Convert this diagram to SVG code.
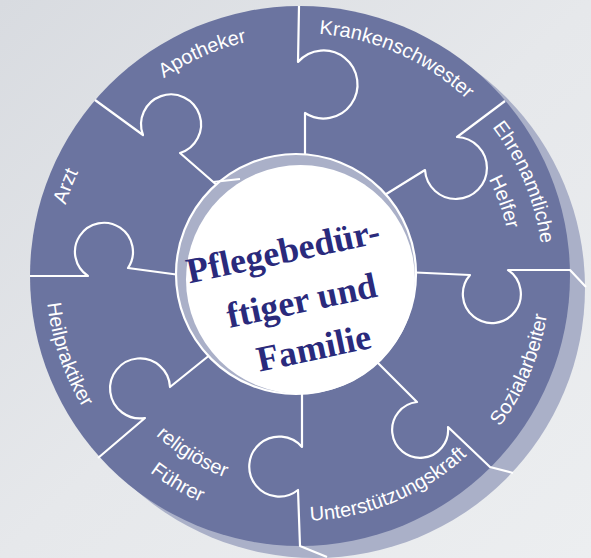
<svg xmlns="http://www.w3.org/2000/svg" width="591" height="558" viewBox="0 0 591 558">
<defs>
<style>
.lbl{font-family:"Liberation Sans",Arial,sans-serif;font-size:20px;fill:#ffffff}
.seam{fill:none;stroke:#ffffff;stroke-width:2.2;stroke-linejoin:round}
.ctr{font-family:"Liberation Serif","Times New Roman",serif;font-weight:bold;font-size:36px;fill:#2a2a7c;text-anchor:middle}
</style>
<linearGradient id="bg" x1="0" y1="0" x2="1" y2="1">
<stop offset="0" stop-color="#d8dbe0"/>
<stop offset="0.5" stop-color="#e6e8eb"/>
<stop offset="1" stop-color="#eceef0"/>
</linearGradient>
<path id="pApo" d="M106.6,133.9 A240,240 0 0 1 326.3,37.4"/>
<path id="pKra" d="M274.2,34.4 A243,243 0 0 1 496.3,132.8"/>
<path id="pEhr" d="M447.3,82.7 A243,243 0 0 1 541.0,306.9"/>
<path id="pHel" d="M436.3,113.6 A212,212 0 0 1 508.8,312.8"/>
<path id="pSoz" d="M450.5,475.7 A250,250 0 0 0 548.1,245.5"/>
<path id="pUnt" d="M268.9,519.0 A245,245 0 0 0 494.9,424.5"/>
<path id="pRel" d="M111.5,379.2 A215,215 0 0 0 295.1,490.9"/>
<path id="pFue" d="M84.8,397.3 A247,247 0 0 0 297.4,523.0"/>
<path id="pHei" d="M50.9,226.2 A254,254 0 0 0 132.4,466.8"/>
<path id="pArz" d="M58.0,314.3 A245,245 0 0 1 145.8,85.6"/>
</defs>
<rect width="591" height="558" fill="url(#bg)"/>
<g id="wheel">
<circle cx="315" cy="288" r="270" fill="#aab0c8"/>
<circle cx="300" cy="276" r="270" fill="#6b74a0"/>
</g>
<g id="connectors">
<path class="seam" d="M299,6 L298,62 A34,34 0 1 1 305,113 L305,160"/>
<path class="seam" d="M505,101 L457,137 A31,31 0 1 1 425,170 L375,201"/>
<path class="seam" d="M405,272 L470,275 A29,29 0 1 0 508,270 L570,270 L586,287"/>
<path class="seam" d="M372,357 L417,402 A28,28 0 1 0 448,427 L490,467 L513,473"/>
<path class="seam" d="M302,386 L302,447 A30,30 0 1 0 298,490 L300,546 L327,557"/>
<path class="seam" d="M216,350 L170,387 A30,30 0 1 0 145,418 L98,458"/>
<path class="seam" d="M30,276 L88,276 A29,29 0 1 1 128,268 L180,275"/>
<path class="seam" d="M95,100 L143,135 A30,30 0 1 1 180,153 L219,187"/>
</g>
<g id="node-apotheker"><text class="lbl"><textPath href="#pApo" startOffset="50%" text-anchor="middle">Apotheker</textPath></text></g>
<g id="node-krankenschwester"><text class="lbl"><textPath href="#pKra" startOffset="50%" text-anchor="middle">Krankenschwester</textPath></text></g>
<g id="node-ehrenamtliche-helfer">
<text class="lbl"><textPath href="#pEhr" startOffset="50%" text-anchor="middle">Ehrenamtliche</textPath></text>
<text class="lbl"><textPath href="#pHel" startOffset="50%" text-anchor="middle">Helfer</textPath></text>
</g>
<g id="node-sozialarbeiter"><text class="lbl"><textPath href="#pSoz" startOffset="50%" text-anchor="middle">Sozialarbeiter</textPath></text></g>
<g id="node-unterstuetzungskraft"><text class="lbl"><textPath href="#pUnt" startOffset="50%" text-anchor="middle">Unterstützungskraft</textPath></text></g>
<g id="node-religioeser-fuehrer">
<text class="lbl"><textPath href="#pRel" startOffset="50%" text-anchor="middle">religiöser</textPath></text>
<text class="lbl"><textPath href="#pFue" startOffset="50%" text-anchor="middle">Führer</textPath></text>
</g>
<g id="node-heilpraktiker"><text class="lbl"><textPath href="#pHei" startOffset="50%" text-anchor="middle">Heilpraktiker</textPath></text></g>
<g id="node-arzt"><text class="lbl"><textPath href="#pArz" startOffset="50%" text-anchor="middle">Arzt</textPath></text></g>
<g id="node-center">
<circle cx="296" cy="274" r="120" fill="#aab0c8" stroke="#ffffff" stroke-width="2.2"/>
<circle cx="300.5" cy="279.5" r="114.5" fill="#ffffff"/>
<path class="seam" d="M213,182 L240,179"/>
<g transform="translate(296,274) rotate(-12)">
<text class="ctr" x="-8" y="-13">Pflegebedür-</text>
<text class="ctr" x="0" y="39">ftiger und</text>
<text class="ctr" x="2" y="88">Familie</text>
</g>
</g>
</svg>
